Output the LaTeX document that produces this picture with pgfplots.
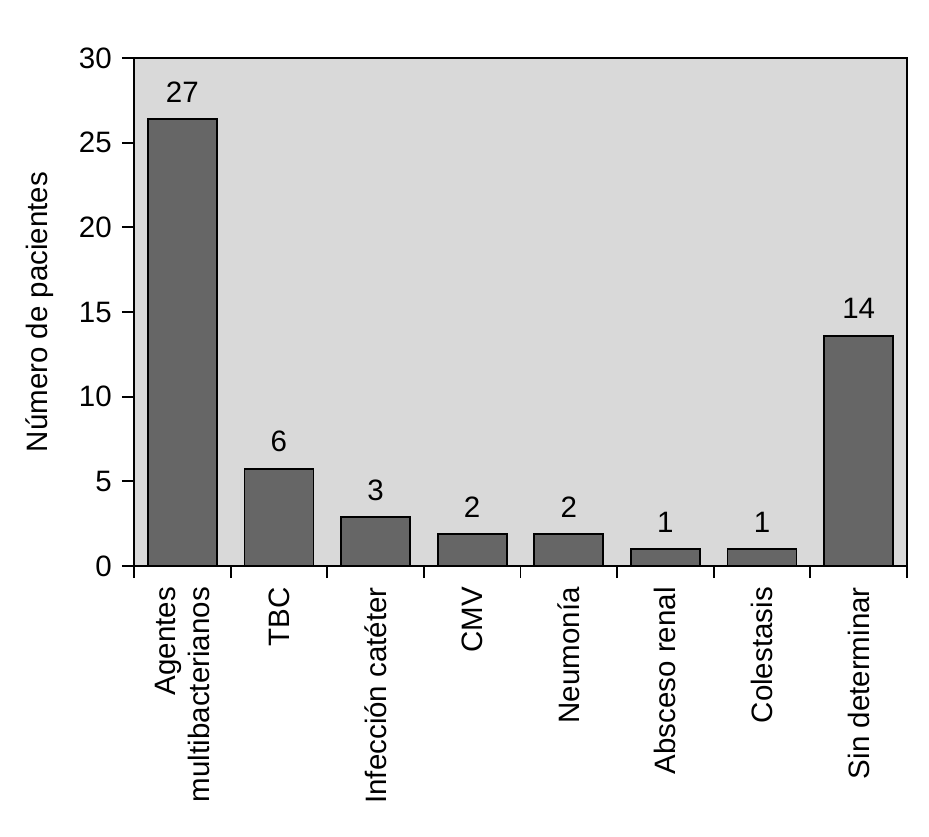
\documentclass[border=0pt]{standalone}
\usepackage{fontspec}
\setmainfont{Liberation Sans}
\usepackage{pgfplots}
\pgfplotsset{compat=1.18}
\definecolor{bgc}{HTML}{D9D9D9}
\definecolor{barc}{HTML}{666666}
\begin{document}
\fontsize{29.5}{34}\selectfont
\begin{tikzpicture}
\useasboundingbox (-134pt,-270pt) rectangle (795pt,566pt);
\begin{axis}[
  at={(0pt,0pt)}, anchor=south west,
  scale only axis, width=773pt, height=508pt,
  xmin=-0.5, xmax=7.5, ymin=0, ymax=30,
  ytick={0,5,...,30},
  xtick={0,...,7},
  xticklabels={{Agentes\\multibacterianos},TBC,{Infección catéter},CMV,{Neumonía},{Absceso renal},Colestasis,{Sin determinar}},
  minor xtick={-0.5,0.5,...,7.5},
  axis background/.style={fill=bgc},
  axis line style={line width=1.8pt},
  tick style={line width=1.8pt, black},
  major x tick style={draw=none},
  tick align=outside,
  tick pos=left,
  major tick length=12pt, minor tick length=12pt,
  /pgf/number format/assume math mode=true,
  yticklabel style={inner sep=0pt, xshift=-10pt},
  xticklabel style={rotate=90, anchor=east, align=right, inner sep=0pt, xshift=-9pt},
  ylabel={Número de pacientes},
  every axis y label/.style={at={(axis description cs:-0.1125,0.5)}, rotate=90, anchor=base},
  clip=false,
]
\addplot[ybar, bar width=69pt, fill=barc, draw=black, line width=1.8pt,
  point meta=explicit symbolic, nodes near coords,
  nodes near coords style={anchor=south, inner sep=0pt, yshift=16pt, black}]
  coordinates {(0,26.4)[27] (1,5.73)[6] (2,2.88)[3] (3,1.87)[2] (4,1.87)[2] (5,0.99)[1] (6,0.99)[1] (7,13.6)[14]};
\end{axis}
\end{tikzpicture}
\end{document}
